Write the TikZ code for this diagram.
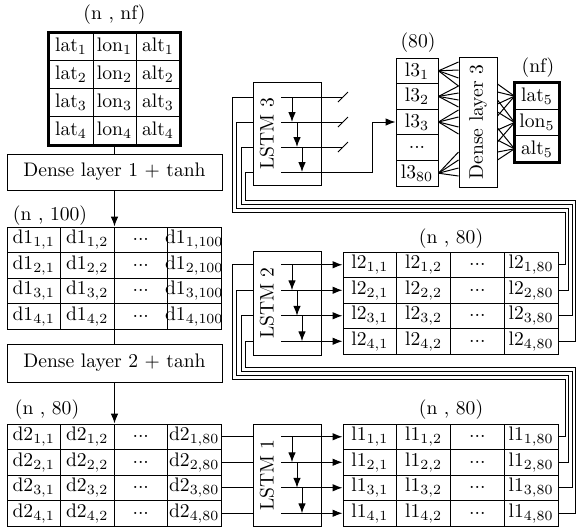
\documentclass[tikz,border=0pt]{standalone}
\usepackage{graphicx}
\usetikzlibrary{arrows.meta}
\newcommand\cellbox[6]{\node[cell, minimum width={(#4-#2)*0.5pt}, minimum height={(#5-#3)*0.5pt}] (#1) at ({(#2+#4)/2},{(#3+#5)/2}) {\makebox[0pt]{#6}};}
\begin{document}
\begin{tikzpicture}[x=0.5pt,y=-0.5pt,
  every node/.style={font=\fontsize{9.8pt}{11pt}\selectfont, inner sep=0pt},
  cell/.style={draw, line width=0.5pt},
  box/.style={draw, line width=0.5pt},
  wire/.style={line width=0.5pt},
  arr/.style={wire,-{Latex[length=5pt,width=3.8pt]}},
  thickb/.style={line width=1.5pt}]
\useasboundingbox (0,0) rectangle (577,527);

% ---------- coordinates for wiring ----------
\coordinate (ix) at (281,0);
\coordinate (v1) at (292,0);
\coordinate (v2) at (297,0);
\coordinate (v3) at (302,0);
\coordinate (xs) at (343,0);
\coordinate (xk) at (372,0);
\coordinate (xl1) at (232,0);
\coordinate (xl2) at (236.5,0);
\coordinate (xl3) at (241,0);
\coordinate (xl4) at (245.5,0);
\coordinate (xr1) at (565,0);
\coordinate (xr2) at (568.5,0);
\coordinate (xr3) at (572,0);
\coordinate (xr4) at (575.5,0);
\coordinate (bu1) at (0,212);
\coordinate (bu2) at (0,208);
\coordinate (bu3) at (0,204);
\coordinate (bu4) at (0,200);
\coordinate (bl1) at (0,379);
\coordinate (bl2) at (0,375);
\coordinate (bl3) at (0,371);
\coordinate (bl4) at (0,367);
\coordinate (r31) at (0,97);
\coordinate (r32) at (0,122);
\coordinate (r33) at (0,147);
\coordinate (r34) at (0,172);

% ---------- input table ----------
\node (lab0) at (114.5,15) {(n , nf)};
\foreach \r in {1,...,4}{
  \pgfmathsetmacro\yt{32.5+28*(\r-1)}
  \pgfmathsetmacro\yb{32.5+28*\r}
  \cellbox{a\r1}{49}{\yt}{93}{\yb}{lat$_{\r}$}
  \cellbox{a\r2}{93}{\yt}{136}{\yb}{lon$_{\r}$}
  \cellbox{a\r3}{136}{\yt}{180}{\yb}{alt$_{\r}$}
}
\draw[thickb] (a11.north west) rectangle (a43.south east);

% ---------- dense layer 1 ----------
\node[box, minimum width={215*0.5pt}, minimum height={36*0.5pt}] (dl1) at (114.5,172) {Dense layer 1 + tanh};
\draw[wire] (a42.south) -- (a42.south |- dl1.north);

% ---------- d1 table ----------
\node (lab1) at (50,216) {(n , 100)};
\foreach \r in {1,...,4}{
  \pgfmathsetmacro\yt{227+25.5*(\r-1)}
  \pgfmathsetmacro\yb{227+25.5*\r}
  \cellbox{b\r1}{7}{\yt}{60.5}{\yb}{d1$_{\r,1}$}
  \cellbox{b\r2}{60.5}{\yt}{114}{\yb}{d1$_{\r,2}$}
  \cellbox{b\r3}{114}{\yt}{167.5}{\yb}{...}
  \cellbox{b\r4}{167.5}{\yt}{221}{\yb}{d1$_{\r,100}$}
}
\draw[arr] (dl1.south -| b12.north east) -- (b12.north east);

% ---------- dense layer 2 ----------
\node[box, minimum width={215*0.5pt}, minimum height={38*0.5pt}] (dl2) at (114.5,363) {Dense layer 2 + tanh};
\draw[wire] (b42.south east) -- (b42.south east |- dl2.north);

% ---------- d2 table ----------
\node (lab2) at (47,410) {(n , 80)};
\foreach \r in {1,...,4}{
  \pgfmathsetmacro\yt{424+25.5*(\r-1)}
  \pgfmathsetmacro\yb{424+25.5*\r}
  \cellbox{c\r1}{7}{\yt}{60.5}{\yb}{d2$_{\r,1}$}
  \cellbox{c\r2}{60.5}{\yt}{114}{\yb}{d2$_{\r,2}$}
  \cellbox{c\r3}{114}{\yt}{167.5}{\yb}{...}
  \cellbox{c\r4}{167.5}{\yt}{221}{\yb}{d2$_{\r,80}$}
}
\draw[arr] (dl2.south -| c12.north east) -- (c12.north east);

% ---------- l1 table ----------
\node (lab4) at (451,410) {(n , 80)};
\foreach \r in {1,...,4}{
  \pgfmathsetmacro\yt{424+25.5*(\r-1)}
  \pgfmathsetmacro\yb{424+25.5*\r}
  \cellbox{e\r1}{343}{\yt}{396.75}{\yb}{l1$_{\r,1}$}
  \cellbox{e\r2}{396.75}{\yt}{450.5}{\yb}{l1$_{\r,2}$}
  \cellbox{e\r3}{450.5}{\yt}{504.25}{\yb}{...}
  \cellbox{e\r4}{504.25}{\yt}{558}{\yb}{l1$_{\r,80}$}
}

% ---------- l2 table ----------
\node (lab3) at (451,239) {(n , 80)};
\foreach \r in {1,...,4}{
  \pgfmathsetmacro\yt{252+25.5*(\r-1)}
  \pgfmathsetmacro\yb{252+25.5*\r}
  \cellbox{f\r1}{343}{\yt}{396.75}{\yb}{l2$_{\r,1}$}
  \cellbox{f\r2}{396.75}{\yt}{450.5}{\yb}{l2$_{\r,2}$}
  \cellbox{f\r3}{450.5}{\yt}{504.25}{\yb}{...}
  \cellbox{f\r4}{504.25}{\yt}{558}{\yb}{l2$_{\r,80}$}
}

% ---------- LSTM boxes ----------
\node[box, minimum width={68*0.5pt}, minimum height={102*0.5pt}] (ls1) at (287,475) {};
\node[rotate=90] (ls1t) at (267,475) {LSTM 1};
\node[box, minimum width={68*0.5pt}, minimum height={104*0.5pt}] (ls2) at (287,303) {};
\node[rotate=90] (ls2t) at (267,303) {LSTM 2};
\node[box, minimum width={68*0.5pt}, minimum height={103*0.5pt}] (ls3) at (287,133.5) {};
\node[rotate=90] (ls3t) at (267,133.5) {LSTM 3};

% ---------- l3 column ----------
\node (lab5) at (418,43) {(80)};
\cellbox{g1}{396}{58}{438}{83.6}{l3$_{1}$}
\cellbox{g2}{396}{83.6}{438}{109.2}{l3$_{2}$}
\cellbox{g3}{396}{109.2}{438}{134.8}{l3$_{3}$}
\cellbox{g4}{396}{134.8}{438}{160.4}{...}
\cellbox{g5}{396}{160.4}{438}{186}{l3$_{80}$}

% ---------- dense layer 3 ----------
\node[box, minimum width={38*0.5pt}, minimum height={130*0.5pt}] (dl3) at (478,122) {\rotatebox{90}{Dense layer 3}};

% ---------- output column ----------
\node (lab6) at (538,68) {(nf)};
\cellbox{o1}{515}{83}{559}{109.3}{lat$_{5}$}
\cellbox{o2}{515}{109.3}{559}{135.6}{lon$_{5}$}
\cellbox{o3}{515}{135.6}{559}{162}{alt$_{5}$}
\draw[thickb] (o1.north west) rectangle (o3.south east);

% ---------- d2 -> LSTM 1 -> l1 ----------
\foreach \r in {1,...,4}{
  \draw[wire] (c\r4.east) -- (c\r4.east -| ls1.west);
  \draw[arr] (ix |- e\r1.west) -- (e\r1.west);
  \draw[arr] (ix |- f\r1.west) -- (f\r1.west);
}
\draw[arr] (v1 |- e11.west) -- (v1 |- e21.west);
\draw[arr] (v2 |- e21.west) -- (v2 |- e31.west);
\draw[arr] (v3 |- e31.west) -- (v3 |- e41.west);
\draw[arr] (v1 |- f11.west) -- (v1 |- f21.west);
\draw[arr] (v2 |- f21.west) -- (v2 |- f31.west);
\draw[arr] (v3 |- f31.west) -- (v3 |- f41.west);

% ---------- l1 -> LSTM 2 ----------
\foreach \r in {1,...,4}{
  \draw[wire] (e\r4.east) -| (xr\r |- bl\r) -| (xl\r |- f\r1.west) -- (ls2.west |- f\r1.west);
}

% ---------- l2 -> LSTM 3 ----------
\foreach \r in {1,...,4}{
  \draw[wire] (f\r4.east) -| (xr\r |- bu\r) -| (xl\r |- r3\r) -- (ls3.west |- r3\r);
}

% ---------- LSTM 3 internals ----------
\draw[arr] (v1 |- r31) -- (v1 |- r32);
\draw[arr] (v2 |- r32) -- (v2 |- r33);
\draw[arr] (v3 |- r33) -- (v3 |- r34);
\foreach \r in {1,2,3}{
  \draw[wire] (ix |- r3\r) -- (xs |- r3\r);
  \coordinate (sl\r) at (xs |- r3\r);
  \draw[wire] ([shift={(-5,5)}]sl\r) -- ([shift={(5,-5)}]sl\r);
}
\draw[arr] (ix |- r34) -| (xk |- g3.west) -- (g3.west);

% ---------- l3 -> dense layer 3 ----------
\foreach \p in {62,70,78,86} \draw[wire] (g1.east) -- ([yshift={(122-\p)*0.5pt}]dl3.west);
\foreach \p in {86,93,100,107} \draw[wire] (g2.east) -- ([yshift={(122-\p)*0.5pt}]dl3.west);
\foreach \p in {110,117,127,134} \draw[wire] (g3.east) -- ([yshift={(122-\p)*0.5pt}]dl3.west);
\foreach \p in {152,160,168,176} \draw[wire] (g5.east) -- ([yshift={(122-\p)*0.5pt}]dl3.west);

% ---------- dense layer 3 -> output ----------
\foreach \p in {84,92,104,116} \draw[wire] ([yshift={(122-\p)*0.5pt}]dl3.east) -- (o1.west);
\foreach \p in {100,112,130,142} \draw[wire] ([yshift={(122-\p)*0.5pt}]dl3.east) -- (o2.west);
\foreach \p in {128,140,152,160} \draw[wire] ([yshift={(122-\p)*0.5pt}]dl3.east) -- (o3.west);
\end{tikzpicture}
\end{document}
